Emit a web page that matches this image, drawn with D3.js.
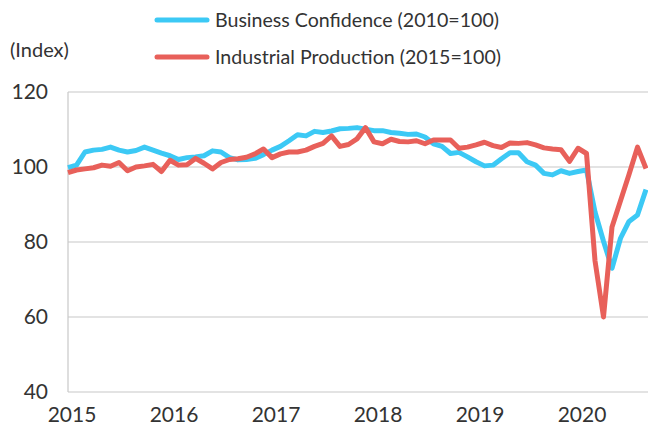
<!DOCTYPE html>
<html>
<head>
<meta charset="utf-8">
<script src="https://cdn.jsdelivr.net/npm/d3@7"></script>
<style>
  body { margin: 0; background: #fff; }
  text { font-family: Lato, "Open Sans", sans-serif; fill: #333; }
</style>
</head>
<body>
<div id="chart"></div>
<script>
"use strict";

// Monthly series, Jan 2015 .. Sep 2020
const yearLabels = ["2015", "2016", "2017", "2018", "2019", "2020"];
const yTicks = [40, 60, 80, 100, 120];

const businessConfidence = [
  99.8, 100.5, 104, 104.5, 104.7, 105.3, 104.5, 104, 104.4, 105.3, 104.5, 103.7,
  103, 102, 102.5, 102.7, 103, 104.3, 104, 102.5, 101.9, 102, 102.3, 103.3,
  104.5, 105.5, 107, 108.6, 108.3, 109.5, 109.2, 109.6, 110.2, 110.3, 110.5, 110.1,
  109.7, 109.7, 109.2, 109, 108.7, 108.8, 108, 106.2, 105.5, 103.6, 103.9, 102.7,
  101.4, 100.3, 100.5, 102.2, 103.8, 103.8, 101.4, 100.5, 98.3, 97.9, 99, 98.3,
  98.8, 99.2, 88, 80.2, 73, 81, 85.5, 87.2, 94
];

const industrialProduction = [
  98.5, 99.2, 99.5, 99.8, 100.5, 100.2, 101.2, 99, 100, 100.3, 100.7, 98.8,
  101.8, 100.5, 100.6, 102.3, 101, 99.5, 101.2, 102, 102.2, 102.6, 103.5, 104.8,
  102.5, 103.5, 104, 104, 104.5, 105.5, 106.3, 108.3, 105.5, 106, 107.5, 110.5,
  106.7, 106.2, 107.4, 106.8, 106.7, 107, 106.2, 107.2, 107.2, 107.2, 105, 105.3,
  105.9, 106.6, 105.7, 105.2, 106.4, 106.3, 106.5, 105.9, 105.1, 104.8, 104.6, 101.5,
  105, 103.6, 75, 60, 84, 91, 98, 105.3, 99.6
];

const seriesNames = ["Business Confidence (2010=100)", "Industrial Production (2015=100)"];
const seriesColors = ["#3cc9f5", "#e8605a"];

const width = 648, height = 427;
const svg = d3.select("#chart").append("svg")
    .attr("width", width)
    .attr("height", height);

// scales: month index -> x, index value -> y
const x = d3.scaleLinear().domain([0, businessConfidence.length - 1]).range([68, 646]);
const y = d3.scaleLinear().domain([40, 120]).range([392, 92]);

// grid lines
svg.append("g")
    .selectAll("line")
    .data(yTicks)
    .join("line")
    .attr("x1", 68)
    .attr("x2", width)
    .attr("y1", d => y(d))
    .attr("y2", d => y(d))
    .attr("stroke", "#c8c8c8")
    .attr("stroke-width", 1.2);

// left axis line
svg.append("line")
    .attr("x1", 68).attr("x2", 68)
    .attr("y1", y(120)).attr("y2", y(40))
    .attr("stroke", "#c8c8c8")
    .attr("stroke-width", 1.2);

// y tick labels
svg.append("g")
    .selectAll("text")
    .data(yTicks)
    .join("text")
    .attr("x", 48)
    .attr("y", d => y(d))
    .attr("dy", "0.35em")
    .style("text-anchor", "end")
    .style("font-size", "21px")
    .text(d => d);

// x labels at January of each year
svg.append("g")
    .selectAll("text")
    .data(yearLabels)
    .join("text")
    .attr("x", (d, i) => x(i * 12) + 4)
    .attr("y", 415)
    .attr("dy", "0.35em")
    .style("text-anchor", "middle")
    .style("font-size", "21px")
    .text(d => d);

svg.append("text")
    .attr("x", 10)
    .attr("y", 50)
    .attr("dy", "0.35em")
    .style("font-size", "20px")
    .text("(Index)");

// the two series, blue first so red sits on top
const line = d3.line()
    .x((d, i) => x(i))
    .y(d => y(d));

[businessConfidence, industrialProduction].forEach((vals, k) => {
    svg.append("path")
        .datum(vals)
        .attr("fill", "none")
        .attr("stroke", seriesColors[k])
        .attr("stroke-width", 5)
        .attr("stroke-linejoin", "round")
        .attr("d", line);
});

// legend
const legend = svg.append("g");
seriesNames.forEach((name, k) => {
    const ly = 20 + k * 37;
    legend.append("line")
        .attr("x1", 157).attr("x2", 207)
        .attr("y1", ly).attr("y2", ly)
        .attr("stroke", seriesColors[k])
        .attr("stroke-width", 5)
        .attr("stroke-linecap", "round");
    legend.append("text")
        .attr("x", 215)
        .attr("y", ly)
        .attr("dy", "0.35em")
        .style("font-size", "19.6px")
        .text(name);
});
</script>
</body>
</html>
